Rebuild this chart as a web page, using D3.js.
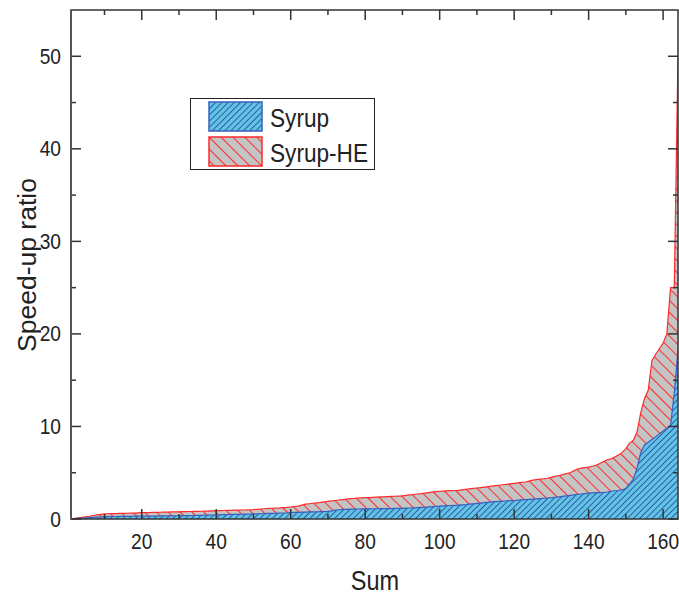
<!DOCTYPE html>
<html>
<head>
<meta charset="utf-8">
<script src="https://cdn.jsdelivr.net/npm/d3@7"></script>
<style>
  html, body { margin: 0; padding: 0; background: #fff; }
  svg { display: block; font-family: "Liberation Sans", Arial, sans-serif; }
</style>
</head>
<body>
<svg id="chart" width="679" height="595"></svg>
<script>
// Sample indices 1..164 (sorted by speed-up)
const sums = d3.range(1, 165);

// Speed-up ratio for Syrup, one value per sample
const syrup = [
  0, 0.03, 0.06, 0.09, 0.12, 0.15, 0.18, 0.2, 0.22, 0.25,
  0.26, 0.27, 0.27, 0.28, 0.28, 0.29, 0.29, 0.3, 0.3, 0.3,
  0.31, 0.31, 0.32, 0.32, 0.33, 0.33, 0.34, 0.34, 0.35, 0.35,
  0.36, 0.36, 0.37, 0.38, 0.39, 0.4, 0.41, 0.42, 0.43, 0.45,
  0.46, 0.47, 0.48, 0.49, 0.5, 0.51, 0.52, 0.53, 0.54, 0.55,
  0.56, 0.57, 0.58, 0.6, 0.61, 0.62, 0.64, 0.65, 0.67, 0.7,
  0.71, 0.72, 0.74, 0.75, 0.76, 0.77, 0.78, 0.79, 0.8, 0.82,
  0.88, 0.95, 1.0, 1.03, 1.05, 1.06, 1.07, 1.08, 1.09, 1.1,
  1.1, 1.11, 1.11, 1.12, 1.12, 1.13, 1.13, 1.14, 1.14, 1.15,
  1.17, 1.19, 1.21, 1.23, 1.25, 1.27, 1.3, 1.33, 1.36, 1.4,
  1.42, 1.44, 1.46, 1.48, 1.5, 1.53, 1.56, 1.6, 1.64, 1.68,
  1.72, 1.76, 1.8, 1.84, 1.87, 1.9, 1.93, 1.95, 1.98, 2.0,
  2.03, 2.06, 2.09, 2.12, 2.15, 2.18, 2.21, 2.24, 2.27, 2.3,
  2.35, 2.4, 2.45, 2.5, 2.55, 2.6, 2.65, 2.7, 2.75, 2.8,
  2.82, 2.84, 2.86, 2.88, 2.92, 3.0, 3.05, 3.08, 3.15, 3.3,
  3.8, 4.3, 5.5, 7.2, 8.0, 8.3, 8.6, 8.9, 9.2, 9.5,
  9.8, 10.1, 13.6, 18.2
];

// Speed-up ratio for Syrup-HE, one value per sample
const syrupHE = [
  0, 0.06, 0.12, 0.18, 0.24, 0.3, 0.38, 0.45, 0.5, 0.55,
  0.57, 0.58, 0.59, 0.6, 0.61, 0.62, 0.63, 0.64, 0.66, 0.68,
  0.69, 0.7, 0.71, 0.72, 0.73, 0.74, 0.75, 0.76, 0.77, 0.78,
  0.79, 0.8, 0.81, 0.82, 0.83, 0.84, 0.85, 0.86, 0.88, 0.9,
  0.91, 0.92, 0.93, 0.94, 0.95, 0.96, 0.97, 0.98, 1.0, 1.02,
  1.05, 1.08, 1.11, 1.14, 1.16, 1.18, 1.2, 1.23, 1.26, 1.3,
  1.35, 1.4, 1.5, 1.6, 1.65, 1.7, 1.75, 1.8, 1.85, 1.9,
  1.95, 2.0, 2.05, 2.1, 2.15, 2.2, 2.22, 2.25, 2.28, 2.3,
  2.32, 2.34, 2.36, 2.38, 2.4, 2.42, 2.44, 2.46, 2.48, 2.5,
  2.55, 2.6, 2.65, 2.7, 2.75, 2.8, 2.85, 2.9, 2.95, 3.0,
  3.02, 3.04, 3.06, 3.08, 3.1, 3.15, 3.2, 3.25, 3.3, 3.35,
  3.4, 3.45, 3.5, 3.55, 3.6, 3.65, 3.7, 3.75, 3.8, 3.85,
  3.9, 3.95, 4.0, 4.1, 4.2, 4.25, 4.3, 4.35, 4.4, 4.5,
  4.6, 4.7, 4.8, 4.9, 5.0, 5.2, 5.4, 5.5, 5.55, 5.6,
  5.7, 5.8, 6.0, 6.2, 6.4, 6.5, 6.7, 6.9, 7.2, 7.6,
  8.2, 8.5, 9.4, 11.5, 13.0, 13.9, 17.1, 17.8, 18.4, 19.0,
  20.0, 25.0, 25.0, 50.0
];

const xMajorTicks = [20, 40, 60, 80, 100, 120, 140, 160];
const xMinorTicks = [10, 30, 50, 70, 90, 110, 130, 150];
const yMajorTicks = [0, 10, 20, 30, 40, 50];
const yMinorTicks = [5, 15, 25, 35, 45];
const seriesNames = ["Syrup", "Syrup-HE"];

const svg = d3.select("#chart");
const plot = { left: 71, right: 678, top: 10, bottom: 519 };

const x = d3.scaleLinear().domain([1, 164]).range([plot.left, plot.right]);
const y = d3.scaleLinear().domain([0, 55]).range([plot.bottom, plot.top]);

// Hatch patterns
const defs = svg.append("defs");
function hatch(id, bg, stroke, gap, angle) {
  const p = defs.append("pattern")
    .attr("id", id)
    .attr("patternUnits", "userSpaceOnUse")
    .attr("width", gap).attr("height", 20)
    .attr("patternTransform", `rotate(${angle})`);
  p.append("rect").attr("width", gap).attr("height", 20).attr("fill", bg);
  p.append("line").attr("x1", 0.5).attr("y1", 0).attr("x2", 0.5).attr("y2", 20)
    .attr("stroke", stroke).attr("stroke-width", 1);
}
hatch("hatchBlue", "#62c6e3", "#2f55b0", 4.4, 45);
hatch("hatchRed", "#c4c4c4", "#ff2a2a", 8.4, -45);

defs.append("clipPath").attr("id", "plotClip")
  .append("rect")
  .attr("x", plot.left).attr("y", plot.top)
  .attr("width", plot.right - plot.left).attr("height", plot.bottom - plot.top);

const g = svg.append("g").attr("clip-path", "url(#plotClip)");

function drawSeries(values, fillId, lineColor) {
  const pts = sums.map((s, i) => [s, values[i]]);
  const area = d3.area().x(d => x(d[0])).y0(y(0)).y1(d => y(d[1]));
  const line = d3.line().x(d => x(d[0])).y(d => y(d[1]));
  g.append("path").datum(pts).attr("d", area).attr("fill", `url(#${fillId})`);
  g.append("path").datum(pts).attr("d", line)
    .attr("fill", "none").attr("stroke", lineColor).attr("stroke-width", 1.2);
}
drawSeries(syrupHE, "hatchRed", "#ff2a2a");
drawSeries(syrup, "hatchBlue", "#3a5fc0");

// Axes (ticks inside, mirrored on top and right)
const axisColor = "#333";
const axes = svg.append("g");
function tick(x1, y1, x2, y2) {
  axes.append("line").attr("x1", x1).attr("y1", y1).attr("x2", x2).attr("y2", y2)
    .attr("stroke", axisColor).attr("stroke-width", 1.5);
}
xMajorTicks.forEach(v => { tick(x(v), plot.bottom, x(v), plot.bottom - 10); tick(x(v), plot.top, x(v), plot.top + 10); });
xMinorTicks.forEach(v => { tick(x(v), plot.bottom, x(v), plot.bottom - 5); tick(x(v), plot.top, x(v), plot.top + 5); });
yMajorTicks.forEach(v => { tick(plot.left, y(v), plot.left + 10, y(v)); tick(plot.right, y(v), plot.right - 10, y(v)); });
yMinorTicks.forEach(v => { tick(plot.left, y(v), plot.left + 5, y(v)); tick(plot.right, y(v), plot.right - 5, y(v)); });

axes.append("rect")
  .attr("x", plot.left).attr("y", plot.top)
  .attr("width", plot.right - plot.left).attr("height", plot.bottom - plot.top)
  .attr("fill", "none").attr("stroke", axisColor).attr("stroke-width", 1.5);
axes.append("line").attr("x1", plot.left).attr("y1", plot.top).attr("x2", plot.left).attr("y2", plot.bottom)
  .attr("stroke", "#555").attr("stroke-width", 2);

// Horizontal text is set in a slightly narrowed face
const narrow = 0.87;
function label(parent, tx, ty, str, size, anchor) {
  parent.append("text")
    .attr("transform", `translate(${tx},${ty}) scale(${narrow},1)`)
    .attr("text-anchor", anchor).attr("font-size", size).attr("fill", "#222")
    .text(str);
}

// Tick labels
const tickLabels = svg.append("g");
xMajorTicks.forEach(v => label(tickLabels, x(v), 549, v, 22, "middle"));
yMajorTicks.forEach(v => label(tickLabels, 61, y(v) + 7.5, v, 22, "end"));

// Axis titles
label(svg, 375, 590, "Sum", 27, "middle");
svg.append("text")
  .attr("transform", `translate(36,265) rotate(-90)`)
  .attr("text-anchor", "middle").attr("font-size", 26.5).attr("fill", "#222").text("Speed-up ratio");

// Legend
const legend = svg.append("g");
legend.append("rect").attr("x", 190.5).attr("y", 98.5).attr("width", 184).attr("height", 71)
  .attr("fill", "#fff").attr("stroke", "#222").attr("stroke-width", 1);
const legendItems = [
  { name: seriesNames[0], fill: "hatchBlue", stroke: "#3a5fc0" },
  { name: seriesNames[1], fill: "hatchRed", stroke: "#ff2a2a" }
];
legendItems.forEach((d, i) => {
  const top = 102 + i * 35;
  legend.append("rect").attr("x", 209).attr("y", top).attr("width", 53).attr("height", 29)
    .attr("fill", `url(#${d.fill})`).attr("stroke", d.stroke).attr("stroke-width", 1.5);
  label(legend, 270, top + 25, d.name, 26, "start");
});
</script>
</body>
</html>
